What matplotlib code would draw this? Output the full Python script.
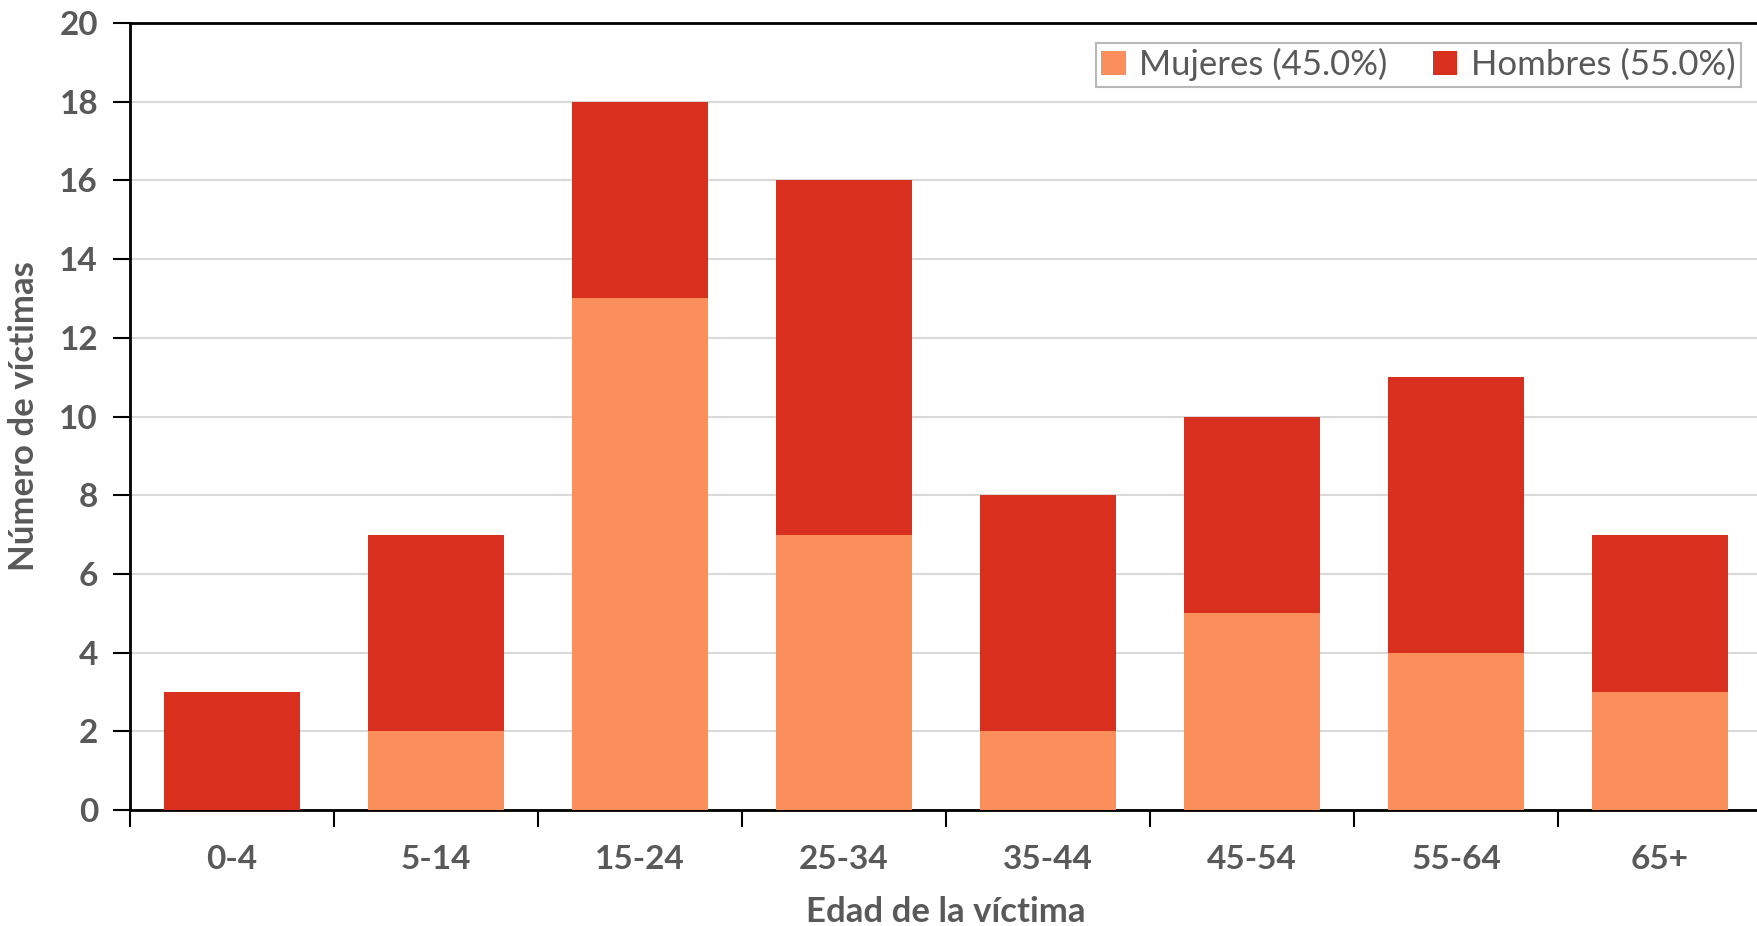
import matplotlib
matplotlib.use("Agg")
import matplotlib.pyplot as plt
import numpy as np

# Victims by age group and sex
age_groups = ["0-4", "5-14", "15-24", "25-34", "35-44", "45-54", "55-64", "65+"]
mujeres = [0, 2, 13, 7, 2, 5, 4, 3]
hombres = [3, 5, 5, 9, 6, 5, 7, 4]
legend_labels = ["Mujeres (45.0%)", "Hombres (55.0%)"]
y_ticks = [0, 2, 4, 6, 8, 10, 12, 14, 16, 18, 20]

COL_M = "#FB8F5B"
COL_H = "#D92F1F"
TXT = "#595959"

plt.rcParams["font.family"] = ["Lato", "DejaVu Sans"]

W, H = 1758, 926
fig = plt.figure(figsize=(W / 100, H / 100), dpi=100)
left, right = 130 / W, 1762 / W
bottom, top = 1 - 810 / H, 1 - 23 / H
ax = fig.add_axes([left, bottom, right - left, top - bottom])

x = np.arange(len(age_groups))
bw = 0.667
ax.bar(x, mujeres, width=bw, color=COL_M, label=legend_labels[0], zorder=3)
ax.bar(x, hombres, width=bw, bottom=mujeres, color=COL_H, label=legend_labels[1], zorder=3)

ax.set_xlim(-0.5, len(age_groups) - 0.5)
ax.set_ylim(0, 20)
ax.set_yticks(y_ticks)
ax.set_yticklabels([str(v) for v in y_ticks], fontsize=24, fontweight="bold", color=TXT)
ax.yaxis.grid(True, color="#D9D9D9", linewidth=1.5, zorder=0)
ax.set_axisbelow(True)

# category labels centred, tick marks on the boundaries
ax.set_xticks(x)
ax.set_xticklabels(age_groups, fontsize=24, fontweight="bold", color=TXT)
ax.tick_params(axis="x", which="major", length=0, pad=25)
ax.set_xticks(np.arange(-0.5, len(age_groups)), minor=True)
ax.tick_params(axis="x", which="minor", length=12, width=1.5, direction="out", color="black")
ax.tick_params(axis="y", length=12, width=1.5, direction="out", color="black", pad=11)

for s in ["left", "bottom", "top"]:
    ax.spines[s].set_color("black")
    ax.spines[s].set_linewidth(2)
ax.spines["right"].set_visible(False)

ax.set_ylabel("Número de víctimas", fontsize=25, fontweight="bold", color=TXT, labelpad=14)
ax.set_xlabel("Edad de la víctima", fontsize=25, fontweight="bold", color=TXT, labelpad=16)

leg = ax.legend(loc="upper right", bbox_to_anchor=(1741 / W, 1 - 43 / H),
                bbox_transform=fig.transFigure, borderaxespad=0, ncol=2,
                fontsize=25, frameon=True, fancybox=False, handlelength=0.7,
                handleheight=0.7, handletextpad=0.4, columnspacing=1.3,
                borderpad=0.15)
leg.get_frame().set_edgecolor("#A6A6A6")
leg.get_frame().set_linewidth(1.5)
for t in leg.get_texts():
    t.set_color(TXT)

fig.savefig("out.png", dpi=100)
